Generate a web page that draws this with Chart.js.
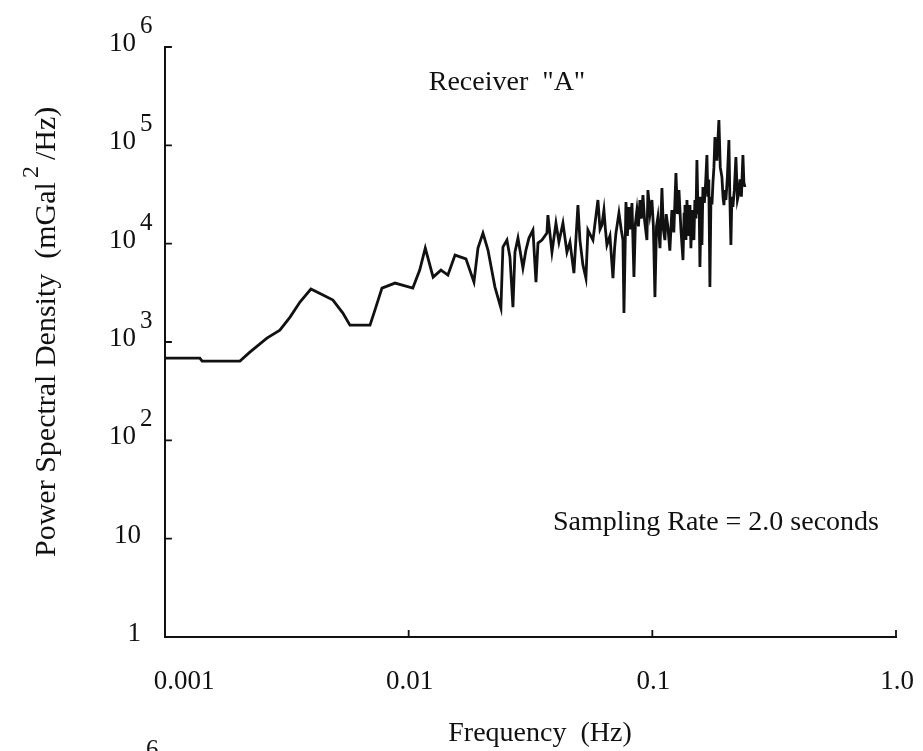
<!DOCTYPE html>
<html lang="en">
<head>
    <meta charset="UTF-8">
    <title>Power Spectral Density - Receiver A</title>
    <script src="https://cdn.jsdelivr.net/npm/chart.js"></script>
    <style>
        body {
            margin: 0;
            background: #fff;
        }
        #psdChart {
            display: block;
        }
    </style>
</head>
<body>
    <canvas id="psdChart" width="923" height="751"></canvas>

    <script>
        // frequency (Hz) and PSD (mGal^2/Hz)
        const freqHz = [
            0.001, 0.00139, 0.00142, 0.00203, 0.00223, 0.00262, 0.00296, 0.00326, 0.00358, 0.00397,
            0.00445, 0.00489, 0.00537, 0.00574, 0.00694, 0.00727, 0.00777, 0.00879, 0.0104, 0.0111,
            0.0117, 0.0126, 0.01357, 0.01449, 0.0155, 0.01718, 0.01853, 0.01925, 0.02018, 0.02116,
            0.0226, 0.02391, 0.02437, 0.02531, 0.02604, 0.02679, 0.0273, 0.02809, 0.02944, 0.03029,
            0.03116, 0.03236, 0.0333, 0.03394, 0.03524, 0.03693, 0.03728, 0.03873, 0.04022, 0.04137,
            0.04297, 0.04462, 0.04591, 0.04767, 0.04951, 0.05045, 0.0519, 0.05339, 0.05441, 0.05705,
            0.0598, 0.061, 0.0621, 0.06329, 0.0642, 0.06511, 0.067, 0.06893, 0.07, 0.0709,
            0.07294, 0.0745, 0.07575, 0.07647, 0.07794, 0.079, 0.08017, 0.0813, 0.08248, 0.08405,
            0.0852, 0.08646, 0.0877, 0.08895, 0.0902, 0.09151, 0.093, 0.09502, 0.09592, 0.0978,
            0.09963, 0.101, 0.1025, 0.104, 0.1054, 0.1075, 0.1095, 0.111, 0.1126, 0.114,
            0.1159, 0.118, 0.1203, 0.1225, 0.125, 0.1268, 0.1286, 0.131, 0.1336, 0.135,
            0.1361, 0.1374, 0.1387, 0.14, 0.1414, 0.1427, 0.144, 0.1454, 0.1468, 0.1481,
            0.1495, 0.151, 0.1524, 0.154, 0.1555, 0.1568, 0.1583, 0.1598, 0.1613, 0.1635,
            0.1655, 0.1675, 0.169, 0.1705, 0.1723, 0.174, 0.1757, 0.1773, 0.179, 0.1807,
            0.184, 0.1876, 0.19, 0.193, 0.195, 0.1967, 0.1985, 0.2004, 0.203, 0.2062,
            0.208, 0.2101, 0.212, 0.2141, 0.217, 0.2203, 0.2235, 0.2266, 0.229, 0.232,
            0.2354, 0.2375, 0.2399
        ];
        const psd = [
            686, 686, 640, 640, 789, 1096, 1321, 1791, 2547, 3452,
            3000, 2669, 1968, 1486, 1486, 2112, 3533, 3972, 3533, 5383,
            9020, 4571, 5383, 4797, 7656, 7000, 4070, 9020, 12820, 8610,
            3620, 2213, 9235, 10880, 7305, 2265, 8210, 11400, 5645, 8610,
            11400, 13750, 4070, 10140, 10880, 12820, 19500, 8210, 16200, 10380,
            16200, 8210, 10380, 5020, 24700, 10880, 6060, 4467, 13750, 10880,
            27800, 14000, 15460, 22000, 14000, 9680, 12000, 4467, 9000, 12820,
            20500, 14000, 10880, 1968, 26500, 12000, 23600, 14000, 25900, 4575,
            16000, 22000, 15000, 27800, 18000, 31200, 17000, 10880, 35100, 20000,
            27800, 15000, 2862, 15000, 18650, 9000, 36800, 14000, 10880, 20000,
            14750, 8500, 22000, 13000, 52300, 20000, 35100, 14000, 6810, 20000,
            24700, 10880, 27800, 14000, 12000, 24700, 9000, 22000, 16000, 10880,
            27800, 18000, 70900, 20000, 30000, 5780, 19500, 9680, 37700, 26000,
            42000, 79700, 30000, 45000, 3620, 30000, 25000, 41400, 60000, 121400,
            70000, 180900, 60000, 47600, 30000, 24700, 35000, 27800, 45000, 113200,
            30000, 9680, 30000, 23600, 35000, 76000, 28000, 32700, 45000, 30000,
            79700, 42000, 37700
        ];

        const xTickValues = [0.001, 0.01, 0.1, 1];
        const xTickLabels = ['0.001', '0.01', '0.1', '1.0'];
        const yTickValues = [1, 10, 100, 1e3, 1e4, 1e5, 1e6];
        const yTickBase = ['1', '10', '10', '10', '10', '10', '10'];
        const yTickSup = ['', '', '2', '3', '4', '5', '6'];

        const SERIF = '"Liberation Serif", "DejaVu Serif", serif';

        // axes, ticks and all the text are painted here from the chart's own scales
        const paperAxes = {
            id: 'paperAxes',
            afterDraw(chart) {
                const ctx = chart.ctx;
                const xs = chart.scales.x;
                const ys = chart.scales.y;
                const left = xs.getPixelForValue(0.001);
                const right = xs.getPixelForValue(1);
                const top = ys.getPixelForValue(1e6);
                const bottom = ys.getPixelForValue(1);

                ctx.save();
                ctx.strokeStyle = '#111';
                ctx.lineWidth = 2;
                ctx.lineCap = 'square';
                ctx.beginPath();
                ctx.moveTo(left, top);
                ctx.lineTo(left, bottom);
                ctx.lineTo(right, bottom);
                ctx.stroke();

                // inward tick marks
                ctx.lineWidth = 1.8;
                ctx.beginPath();
                yTickValues.forEach(v => {
                    const py = ys.getPixelForValue(v);
                    if (v === 1) return;
                    ctx.moveTo(left, py);
                    ctx.lineTo(left + 6, py);
                });
                xTickValues.forEach(v => {
                    const px = xs.getPixelForValue(v);
                    if (v === 0.001) return;
                    ctx.moveTo(px, bottom);
                    ctx.lineTo(px, bottom - 6);
                });
                ctx.stroke();

                ctx.fillStyle = '#111';
                ctx.textBaseline = 'alphabetic';

                // y tick labels, 10 with superscript exponent
                yTickValues.forEach((v, i) => {
                    const py = ys.getPixelForValue(v);
                    ctx.font = '27px ' + SERIF;
                    if (yTickSup[i]) {
                        ctx.textAlign = 'right';
                        ctx.fillText(yTickBase[i], 136, py + 4);
                        ctx.textAlign = 'left';
                        ctx.font = '25px ' + SERIF;
                        ctx.fillText(yTickSup[i], 140, py - 14);
                    } else {
                        ctx.textAlign = 'right';
                        ctx.fillText(yTickBase[i], 141, py + 4);
                    }
                });

                // x tick labels
                ctx.font = '27px ' + SERIF;
                ctx.textAlign = 'center';
                xTickValues.forEach((v, i) => {
                    let px = xs.getPixelForValue(v);
                    if (i === 0) px += 18;
                    ctx.fillText(xTickLabels[i], px + 1, 689);
                });

                // x title
                ctx.font = '28px ' + SERIF;
                ctx.fillText('Frequency  (Hz)', 540, 741);

                // annotations
                ctx.fillText('Receiver  "A"', 507, 90);
                ctx.textAlign = 'right';
                ctx.fillText('Sampling Rate = 2.0 seconds', 879, 530);

                // fragment of the next figure's label at the bottom edge
                ctx.textAlign = 'left';
                ctx.font = '25px ' + SERIF;
                ctx.fillText('6', 146, 757);

                // y title, rotated, with superscript 2
                ctx.translate(55, 557);
                ctx.rotate(-Math.PI / 2);
                ctx.textAlign = 'left';
                ctx.font = '30px ' + SERIF;
                const part1 = 'Power Spectral Density  (mGal';
                ctx.fillText(part1, 0, 0);
                let w = ctx.measureText(part1).width + 4;
                ctx.font = '24px ' + SERIF;
                ctx.fillText('2', w, -17);
                w += ctx.measureText('2').width + 6;
                ctx.font = '30px ' + SERIF;
                ctx.fillText('/Hz)', w, 0);
                ctx.restore();
            }
        };

        const points = freqHz.map((f, i) => ({ x: f, y: psd[i] }));

        new Chart(document.getElementById('psdChart').getContext('2d'), {
            type: 'line',
            data: {
                datasets: [{
                    data: points,
                    borderColor: '#111',
                    borderWidth: 2.8,
                    pointRadius: 0,
                    tension: 0,
                    fill: false
                }]
            },
            options: {
                responsive: false,
                animation: false,
                devicePixelRatio: 1,
                layout: {
                    padding: { left: 165, right: 27, top: 47, bottom: 114 }
                },
                plugins: {
                    legend: { display: false },
                    tooltip: { enabled: false }
                },
                scales: {
                    x: { type: 'logarithmic', min: 0.001, max: 1, display: false },
                    y: { type: 'logarithmic', min: 1, max: 1e6, display: false }
                }
            },
            plugins: [paperAxes]
        });
    </script>
</body>
</html>
